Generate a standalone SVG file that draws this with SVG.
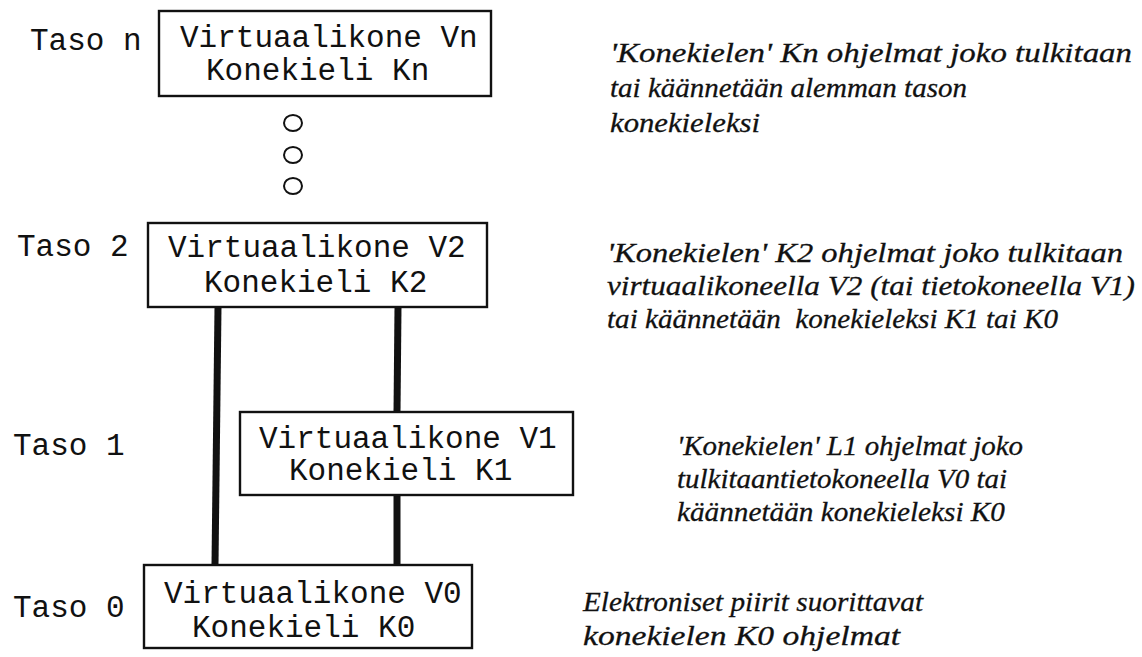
<svg xmlns="http://www.w3.org/2000/svg" width="1142" height="657" viewBox="0 0 1142 657">
<style>
.box{fill:#fff;stroke:#111;stroke-width:2.4}
.mono{font-family:"Liberation Mono","Courier New",monospace;font-size:31px;fill:#111}
.note{font-family:"Liberation Serif","Times New Roman",serif;font-style:italic;font-size:28px;fill:#111;stroke:#111;stroke-width:0.3}
.conn{stroke:#111;stroke-width:7;fill:none}
.dot{fill:none;stroke:#111;stroke-width:2}
</style>
<rect width="1142" height="657" fill="#fff"/>
<g id="connectors">
<line class="conn" x1="218" y1="307" x2="215" y2="565"/>
<line class="conn" x1="398" y1="307" x2="397" y2="412"/>
<line class="conn" x1="397" y1="495" x2="397" y2="565"/>
</g>
<g id="labels">
<text class="mono" x="30" y="50">Taso n</text>
<text class="mono" x="17" y="256">Taso 2</text>
<text class="mono" x="13" y="455">Taso 1</text>
<text class="mono" x="13" y="617">Taso 0</text>
</g>
<g id="node-vn">
<rect class="box" x="159" y="11" width="332" height="85"/>
<text class="mono" x="180" y="47">Virtuaalikone Vn</text>
<text class="mono" x="206" y="80">Konekieli Kn</text>
</g>
<g id="ellipsis">
<ellipse class="dot" cx="293" cy="123" rx="9" ry="8"/>
<ellipse class="dot" cx="293" cy="155" rx="9" ry="8"/>
<ellipse class="dot" cx="293" cy="186" rx="9" ry="8"/>
</g>
<g id="node-v2">
<rect class="box" x="148" y="223" width="339" height="84"/>
<text class="mono" x="168" y="257">Virtuaalikone V2</text>
<text class="mono" x="204" y="292">Konekieli K2</text>
</g>
<g id="node-v1">
<rect class="box" x="240" y="412" width="333" height="83"/>
<text class="mono" x="259" y="448">Virtuaalikone V1</text>
<text class="mono" x="289" y="480">Konekieli K1</text>
</g>
<g id="node-v0">
<rect class="box" x="144" y="565" width="328" height="83"/>
<text class="mono" x="164" y="603">Virtuaalikone V0</text>
<text class="mono" x="192" y="637">Konekieli K0</text>
</g>
<g id="notes">
<text class="note" x="610" y="62" textLength="522" lengthAdjust="spacingAndGlyphs">'Konekielen' Kn ohjelmat joko tulkitaan</text>
<text class="note" x="610" y="97" textLength="357" lengthAdjust="spacingAndGlyphs">tai käännetään alemman tason</text>
<text class="note" x="610" y="132" textLength="150" lengthAdjust="spacingAndGlyphs">konekieleksi</text>
<text class="note" x="607" y="262" textLength="516" lengthAdjust="spacingAndGlyphs">'Konekielen' K2 ohjelmat joko tulkitaan</text>
<text class="note" x="607" y="295" textLength="528" lengthAdjust="spacingAndGlyphs">virtuaalikoneella V2 (tai tietokoneella V1)</text>
<text class="note" x="607" y="328" textLength="451" lengthAdjust="spacingAndGlyphs" xml:space="preserve">tai käännetään  konekieleksi K1 tai K0</text>
<text class="note" x="677" y="455" textLength="346" lengthAdjust="spacingAndGlyphs">'Konekielen' L1 ohjelmat joko</text>
<text class="note" x="677" y="488" textLength="330" lengthAdjust="spacingAndGlyphs">tulkitaantietokoneella V0 tai</text>
<text class="note" x="677" y="521" textLength="328" lengthAdjust="spacingAndGlyphs">käännetään konekieleksi K0</text>
<text class="note" x="583" y="611" textLength="340" lengthAdjust="spacingAndGlyphs">Elektroniset piirit suorittavat</text>
<text class="note" x="583" y="645" textLength="317" lengthAdjust="spacingAndGlyphs">konekielen K0 ohjelmat</text>
</g>
</svg>
